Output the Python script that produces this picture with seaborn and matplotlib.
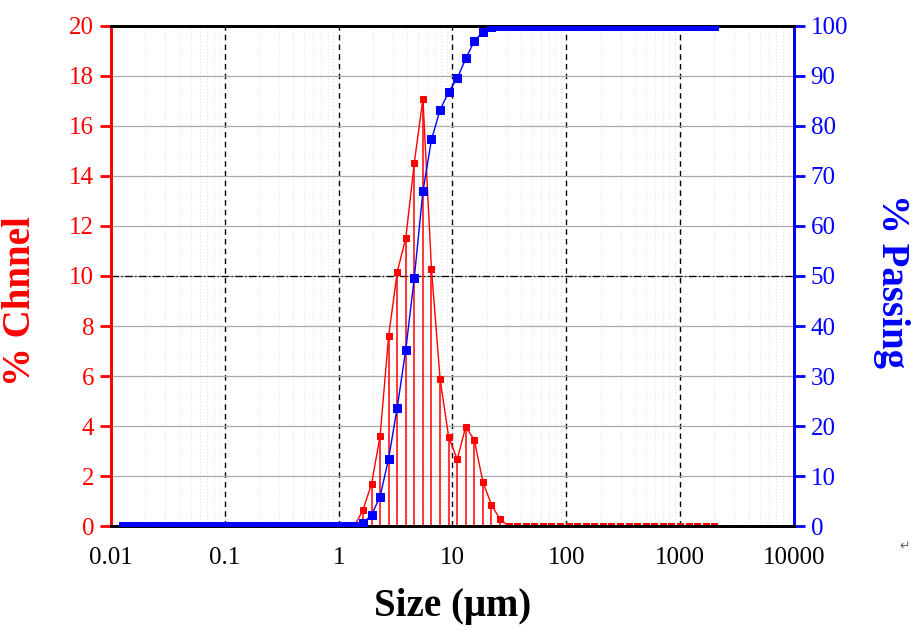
import numpy as np
import pandas as pd
import matplotlib
matplotlib.use('Agg')
import matplotlib.pyplot as plt
import matplotlib.ticker as mticker
import seaborn as sns

# channel sizes (um)
sizes = [0.0128, 0.0152, 0.0181, 0.0215, 0.0255, 0.0304, 0.0361, 0.043, 0.0511, 0.0608,
         0.0723, 0.0859, 0.1022, 0.1215, 0.1445, 0.172, 0.204, 0.243, 0.289, 0.344,
         0.409, 0.486, 0.578, 0.688, 0.818, 0.972, 1.156, 1.375, 1.635, 1.945,
         2.312, 2.75, 3.27, 3.89, 4.62, 5.5, 6.54, 7.78, 9.25, 11.0,
         13.08, 15.56, 18.5, 22.0, 26.16, 31.11, 37.0, 44.0, 52.33, 62.23,
         74.0, 88.0, 104.7, 124.5, 148.0, 176.0, 209.3, 248.9, 296.0, 352.0,
         418.6, 497.8, 592.0, 704.0, 837.2, 995.6, 1184.0, 1408.0, 1674.0, 2000.0]

# % channel (red)
channel = [0, 0, 0, 0, 0, 0, 0, 0, 0, 0,
           0, 0, 0, 0, 0, 0, 0, 0, 0, 0,
           0, 0, 0, 0, 0, 0, 0, 0, 0.64, 1.68,
           3.6, 7.6, 10.16, 11.52, 14.53, 17.09, 10.27, 5.89, 3.57, 2.67,
           3.97, 3.44, 1.76, 0.85, 0.27, 0, 0, 0, 0, 0,
           0, 0, 0, 0, 0, 0, 0, 0, 0, 0,
           0, 0, 0, 0, 0, 0, 0, 0, 0, 0]

# % passing (blue)
passing = [0, 0, 0, 0, 0, 0, 0, 0, 0, 0,
           0, 0, 0, 0, 0, 0, 0, 0, 0, 0,
           0, 0, 0, 0, 0, 0, 0, 0, 0.6, 2.2,
           5.9, 13.5, 23.7, 35.3, 49.7, 66.9, 77.3, 83.2, 86.8, 89.5,
           93.5, 97.0, 98.8, 99.7, 100, 100, 100, 100, 100, 100,
           100, 100, 100, 100, 100, 100, 100, 100, 100, 100,
           100, 100, 100, 100, 100, 100, 100, 100, 100, 100]

x_ticks = [0.01, 0.1, 1, 10, 100, 1000, 10000]
x_tick_labels = ['0.01', '0.1', '1', '10', '100', '1000', '10000']

df = pd.DataFrame({'size': sizes, 'channel': channel, 'passing': passing})

sns.set_style('white')
plt.rcParams['font.family'] = ['Liberation Serif', 'DejaVu Serif']

red = '#ff0000'
blue = '#0000ff'

fig = plt.figure(figsize=(9.24, 6.4), dpi=100)
ax = fig.add_axes([0.1201, 0.1781, 0.7392, 0.7813])

# grid
ax.set_xscale('log')
ax.set_xlim(0.01, 10000)
ax.set_ylim(0, 20)
ax.set_yticks(np.arange(0, 21, 2))
ax.xaxis.set_major_locator(mticker.FixedLocator(x_ticks))
ax.xaxis.set_major_formatter(mticker.FixedFormatter(x_tick_labels))
ax.xaxis.set_minor_locator(mticker.LogLocator(base=10, subs=np.arange(2, 10)))
ax.xaxis.set_minor_formatter(mticker.NullFormatter())
ax.grid(axis='x', which='major', color='black', linestyle=(0, (4, 3)), linewidth=1.0)
ax.grid(axis='x', which='minor', color='#e2e2e2', linestyle=(0, (1, 2)), linewidth=0.8)
ax.grid(axis='y', which='major', color='#aaaaaa', linestyle='-', linewidth=0.9)
ax.axhline(10, color='black', linestyle=(0, (6, 2, 1, 2)), linewidth=0.9, zorder=1)
ax.set_axisbelow(True)

ax.vlines(df['size'], 0, df['channel'], color=red, linewidth=1.1, zorder=2)
sns.lineplot(data=df, x='size', y='channel', ax=ax, color=red, linewidth=1.0,
             marker='s', markersize=4.6, markeredgecolor=red, zorder=3)

ax2 = ax.twinx()
ax2.set_ylim(0, 100)
ax2.set_yticks(np.arange(0, 101, 10))
sns.lineplot(data=df, x='size', y='passing', ax=ax2, color=blue, linewidth=1.0,
             marker='s', markersize=6, markeredgecolor=blue, zorder=3)

ax.set_xlim(0.01, 10000)

# spines
for a in (ax, ax2):
    for s in a.spines.values():
        s.set_linewidth(2)
        s.set_color('black')
    a.spines['left'].set_color(red)
    a.spines['right'].set_color(blue)

ax.tick_params(axis='x', which='major', direction='out', length=9, width=1.5,
               colors='black', labelsize=18, pad=6)
ax.tick_params(axis='x', which='minor', direction='out', length=5, width=1.2, colors='black')
ax.tick_params(axis='y', direction='out', length=8, width=2, colors=red, labelsize=18,
               left=True, pad=4)
ax2.tick_params(axis='y', direction='out', length=8, width=2, colors=blue, labelsize=18,
                right=True, pad=4)

ax.set_xlabel('Size (\u03bcm)', fontsize=28, fontweight='bold', color='black', labelpad=14)
ax.set_ylabel('% Chnnel', fontsize=28, fontweight='bold', color=red, labelpad=14)
ax2.set_ylabel('% Passing', fontsize=28, fontweight='bold', color=blue, labelpad=16,
               rotation=270, va='bottom')
ax.yaxis.set_label_coords(-0.105, 0.45)
ax2.yaxis.set_label_coords(1.115, 0.49)

fig.text(0.985, 0.147, '\u21b5', fontsize=9, color='#556677', family='DejaVu Sans',
         ha='right', va='center')

fig.savefig('out.png', dpi=100)
